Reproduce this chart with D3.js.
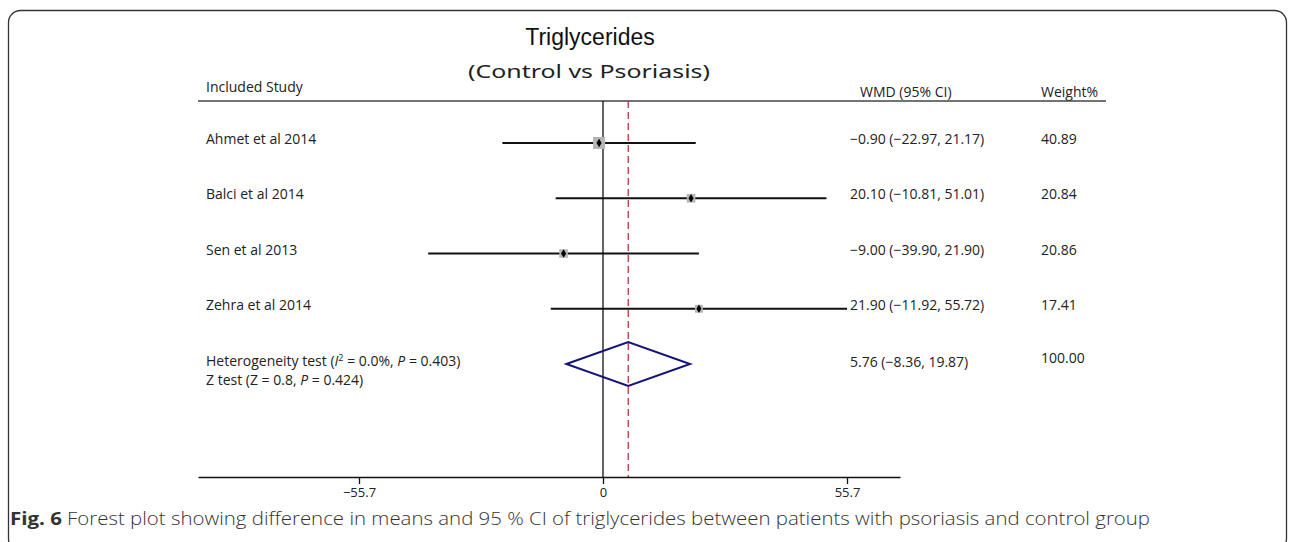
<!DOCTYPE html>
<html>
<head>
<meta charset="utf-8">
<script src="https://cdnjs.cloudflare.com/ajax/libs/d3/7.8.5/d3.min.js"></script>
<style>
  body { margin: 0; background: #fff; }
  svg { display: block; }
  .lbl { font-family: "Open Sans", "Noto Sans", sans-serif; font-size: 14px; fill: #222; }
</style>
</head>
<body>
<script>
// study level data
const studies = ["Ahmet et al 2014", "Balci et al 2014", "Sen et al 2013", "Zehra et al 2014"];
const wmd = [-0.90, 20.10, -9.00, 21.90];
const lower = [-22.97, -10.81, -39.90, -11.92];
const upper = [21.17, 51.01, 21.90, 55.72];
const weights = [40.89, 20.84, 20.86, 17.41];

// pooled estimate
const pooled = [5.76, -8.36, 19.87];
const pooledWeight = 100.00;

const tickValues = [-55.7, 0, 55.7];

const width = 1290, height = 542;
const svg = d3.select("body").append("svg")
  .attr("width", width).attr("height", height);

const fmt = d3.format(".2f");
const minus = s => s.replace(/-/g, "\u2212");

const x = d3.scaleLinear().domain([-55.7, 55.7]).range([359, 847]);
// axis spans wider than the tick range
const xAxisScale = x.copy().domain([x.invert(198), x.invert(900)]).range([198, 900]);
const y = d3.scaleLinear().domain([0, 4]).range([143, 364]);
const boxSize = d3.scaleSqrt().domain([0, d3.max(weights)]).range([0, 12]);

const axisY = 477, topY = 101;

// frame
svg.append("rect")
  .attr("x", 8.5).attr("y", 10.5).attr("width", 1278).attr("height", 540)
  .attr("rx", 12).attr("fill", "none").attr("stroke", "#333").attr("stroke-width", 1.3);

// titles
svg.append("text").attr("x", 590).attr("y", 45).attr("text-anchor", "middle")
  .style("font-family", "'Liberation Sans', Arial, sans-serif").style("font-size", "23px")
  .attr("fill", "#111").text("Triglycerides");
svg.append("text").attr("x", 468).attr("y", 78)
  .attr("textLength", 242).attr("lengthAdjust", "spacingAndGlyphs")
  .style("font-family", "'Noto Sans', sans-serif").style("font-size", "18px")
  .attr("fill", "#222").text("(Control  vs  Psoriasis)");

// column headers
svg.append("text").attr("class", "lbl").attr("x", 206).attr("y", 92).text("Included Study");
svg.append("text").attr("class", "lbl").attr("x", 860).attr("y", 97).attr("font-size", "13px").text("WMD (95% CI)");
svg.append("text").attr("class", "lbl").attr("x", 1041).attr("y", 97).text("Weight%");
svg.append("line").attr("x1", 198).attr("x2", 1106).attr("y1", topY).attr("y2", topY)
  .attr("stroke", "#444").attr("stroke-width", 1.5);

// null line and pooled line
svg.append("line").attr("x1", x(0)).attr("x2", x(0)).attr("y1", topY).attr("y2", axisY)
  .attr("stroke", "#111").attr("stroke-width", 1.3);
svg.append("line").attr("x1", x(pooled[0])).attr("x2", x(pooled[0])).attr("y1", topY).attr("y2", axisY)
  .attr("stroke", "#b3262e").attr("stroke-width", 1.2).attr("stroke-dasharray", "7,4");

// study rows
const rows = svg.selectAll("g.row").data(studies).enter().append("g").attr("class", "row");
rows.append("text").attr("class", "lbl").attr("x", 206).attr("y", (d, i) => y(i) + 1).text(d => d);
rows.append("line")
  .attr("x1", (d, i) => x(lower[i])).attr("x2", (d, i) => x(upper[i]))
  .attr("y1", (d, i) => y(i)).attr("y2", (d, i) => y(i))
  .attr("stroke", "#111").attr("stroke-width", 2);
rows.append("rect")
  .attr("x", (d, i) => x(wmd[i]) - boxSize(weights[i]) / 2)
  .attr("y", (d, i) => y(i) - boxSize(weights[i]) / 2)
  .attr("width", (d, i) => boxSize(weights[i]))
  .attr("height", (d, i) => boxSize(weights[i]))
  .attr("fill", "#b5b5b5");
rows.append("path")
  .attr("d", d3.symbol(d3.symbolDiamond, 22))
  .attr("transform", (d, i) => `translate(${x(wmd[i])},${y(i)})`)
  .attr("fill", "#000");
rows.append("text").attr("class", "lbl").attr("x", 850).attr("y", (d, i) => y(i) + 1)
  .text((d, i) => minus(`${fmt(wmd[i])} (${fmt(lower[i])}, ${fmt(upper[i])})`));
rows.append("text").attr("class", "lbl").attr("x", 1041).attr("y", (d, i) => y(i) + 1)
  .text((d, i) => fmt(weights[i]));

// pooled diamond
const py = y(4);
svg.append("path")
  .attr("d", d3.line()([[x(pooled[1]), py], [x(pooled[0]), py - 22], [x(pooled[2]), py], [x(pooled[0]), py + 22]]) + "Z")
  .attr("fill", "none").attr("stroke", "#14147a").attr("stroke-width", 2);

const het = svg.append("text").attr("class", "lbl").attr("x", 206).attr("y", py + 2);
het.append("tspan").text("Heterogeneity test (");
het.append("tspan").attr("font-style", "italic").text("I");
het.append("tspan").attr("font-size", "9px").attr("dy", -5).text("2");
het.append("tspan").attr("dy", 5).text(" = 0.0%, ");
het.append("tspan").attr("font-style", "italic").text("P");
het.append("tspan").text(" = 0.403)");
const zt = svg.append("text").attr("class", "lbl").attr("x", 206).attr("y", py + 21);
zt.append("tspan").text("Z test (Z = 0.8, ");
zt.append("tspan").attr("font-style", "italic").text("P");
zt.append("tspan").text(" = 0.424)");

svg.append("text").attr("class", "lbl").attr("x", 850).attr("y", py + 3)
  .text(minus(`${fmt(pooled[0])} (${fmt(pooled[1])}, ${fmt(pooled[2])})`));
svg.append("text").attr("class", "lbl").attr("x", 1041).attr("y", py - 1).text(fmt(pooledWeight));

// x axis
const axis = svg.append("g").attr("transform", `translate(0,${axisY})`)
  .call(d3.axisBottom(xAxisScale).tickValues(tickValues).tickSize(7).tickSizeOuter(0)
    .tickFormat(d => d === 0 ? "0" : minus(d3.format(".1f")(d))));
axis.select(".domain").attr("stroke", "#111").attr("stroke-width", 1.5);
axis.selectAll(".tick line").attr("stroke", "#111").attr("stroke-width", 1.3);
axis.selectAll(".tick text").attr("y", 11).attr("fill", "#222")
  .style("font-family", "'Open Sans', sans-serif").style("font-size", "13px");

// caption
svg.append("text").attr("x", 10).attr("y", 525)
  .style("font-family", "'Open Sans', sans-serif").style("font-size", "18px").style("font-weight", "bold")
  .attr("textLength", 52).attr("lengthAdjust", "spacingAndGlyphs")
  .attr("fill", "#333").text("Fig. 6");
svg.append("text").attr("x", 67).attr("y", 525)
  .style("font-family", "'Open Sans', sans-serif").style("font-size", "18px").style("font-weight", "300")
  .attr("textLength", 1083).attr("lengthAdjust", "spacingAndGlyphs")
  .attr("fill", "#333")
  .text("Forest plot showing difference in means and 95 % CI of triglycerides between patients with psoriasis and control group");
</script>
</body>
</html>
